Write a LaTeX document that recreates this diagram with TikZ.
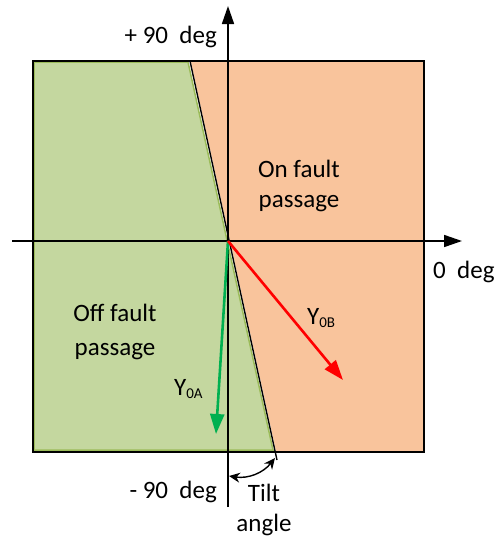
\documentclass[tikz,border=0pt]{standalone}
\usepackage{fontspec}
\setmainfont{Carlito}
\usetikzlibrary{arrows.meta}

\definecolor{offgreen}{HTML}{C4D79F}
\definecolor{offedge}{HTML}{9BBB59}
\definecolor{onorange}{HTML}{F9C49C}
\definecolor{vecgreen}{HTML}{00B050}

\newcommand{\ysub}[1]{Y\raisebox{-3pt}{\fontsize{15}{15}\selectfont #1}}

\begin{document}
\begin{tikzpicture}[x=1pt, y=-1pt,
    lbl/.style={font=\fontsize{25}{30}\selectfont, inner sep=0pt, align=center},
    axis/.style={line width=1.6pt, -{Triangle[length=18pt, width=12pt]}},
    vec/.style={line width=2.6pt, -{Triangle[length=20pt, width=14pt]}}
]
    \useasboundingbox (0,0) rectangle (496,539);

    % key points
    \coordinate (O) at (228,241);
    \coordinate (tiltTop) at (190,61);
    \coordinate (tiltEnd) at (277,460);
    \coordinate (yTop) at (228,6);
    \coordinate (yBot) at (228,507);
    \coordinate (xLeft) at (12,241);
    \coordinate (xRight) at (462,241);
    \coordinate (tipA) at (216,434);
    \coordinate (tipB) at (343,380);
    \coordinate (arcL) at (229,476);
    \coordinate (arcR) at (275,458);

    % the two regions
    \fill[onorange] (191,62) -- (423,62) -- (423,451) -- (276,451) -- cycle;
    \filldraw[fill=offgreen, draw=offedge, line width=1.5pt]
        (34,62) -- (188,62) -- (273,450) -- (34,450) -- cycle;
    \draw[line width=1.6pt] (33,61) rectangle (424,452);
    \draw[line width=1.4pt] (tiltTop) -- (tiltEnd);

    % axes
    \draw[axis] (yBot) -- (yTop);
    \draw[axis] (xLeft) -- (xRight);

    % vectors
    \draw[vec, vecgreen] (O) -- (tipA);
    \draw[vec, red] (O) -- (tipB);

    % tilt angle
    \draw[line width=1.4pt, {Stealth[length=11pt, width=10pt]}-{Stealth[length=11pt, width=10pt]}]
        (arcL) to[bend right=30] (arcR);

    % labels
    \node[lbl, anchor=base east] (plus) at (217,43) {+ 90\ \ deg};
    \node[lbl, anchor=base east] (minus) at (217,498) {- 90\ \ deg};
    \node[lbl, anchor=base west] (zero) at (433,278) {0\ \ deg};
    \node[lbl] (on) at (299,186) {On fault\\passage};
    \node[lbl, font=\fontsize{25}{34}\selectfont] (off) at (115,332) {Off fault\\passage};
    \node[lbl, anchor=base west] (yb) at (307,324) {\ysub{0B}};
    \node[lbl, anchor=base west] (ya) at (174,395) {\ysub{0A}};
    \node[lbl] (tilt) at (264,510) {Tilt\\angle};
\end{tikzpicture}
\end{document}
